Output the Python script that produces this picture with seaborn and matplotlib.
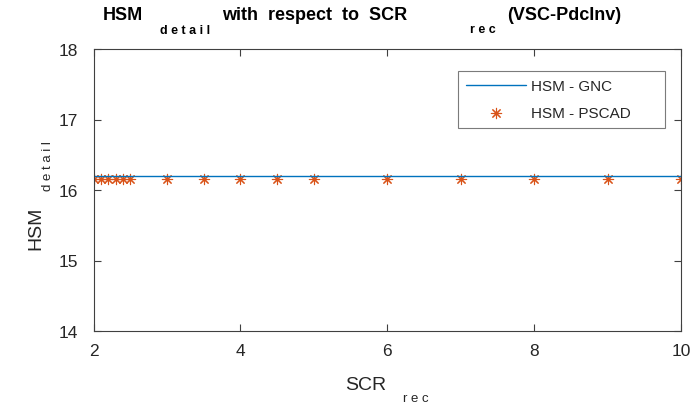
import matplotlib
matplotlib.use("Agg")
import matplotlib.pyplot as plt
import seaborn as sns
import pandas as pd

# Short-circuit ratio at the receiving end
scr_rec = [2.0, 2.1, 2.2, 2.3, 2.4, 2.5, 3.0, 3.5, 4.0, 4.5, 5.0, 6.0, 7.0, 8.0, 9.0, 10.0]
# Harmonic stability margin, analytical (GNC) and simulated (PSCAD)
hsm_gnc = [16.2] * len(scr_rec)
hsm_pscad = [16.15] * len(scr_rec)

x_ticks = [2, 4, 6, 8, 10]
y_ticks = [14, 15, 16, 17, 18]

sns.set_theme(style="white")
plt.rcParams["font.family"] = ["Liberation Sans", "DejaVu Sans"]

W, H = 691, 406
fig = plt.figure(figsize=(W / 100, H / 100), dpi=100)
ax = fig.add_axes([93.5 / W, 1 - 332 / H, (681 - 93.5) / W, (332 - 50) / H])

df = pd.DataFrame({"scr": scr_rec, "gnc": hsm_gnc, "pscad": hsm_pscad})
blue = "#0072BD"
orange = "#D95319"
sns.lineplot(data=df, x="scr", y="gnc", ax=ax, color=blue, linewidth=1.0,
             label="HSM - GNC")
sns.scatterplot(data=df, x="scr", y="pscad", ax=ax, color=orange,
                marker=(8, 2, 0), s=55, linewidth=0.8, edgecolor=orange,
                label="HSM - PSCAD")

ax.set_xlim(2, 10)
ax.set_ylim(14, 18)
ax.set_xticks(x_ticks)
ax.set_yticks(y_ticks)
ax.set_xticklabels([str(t) for t in x_ticks])
ax.set_yticklabels([str(t) for t in y_ticks])
ax.set_xlabel("")
ax.set_ylabel("")

axis_color = "#404040"
for sp in ax.spines.values():
    sp.set_visible(True)
    sp.set_color(axis_color)
    sp.set_linewidth(0.8)
ax.tick_params(axis="both", which="both", direction="in", length=5,
               width=0.8, color=axis_color, labelsize=12.5,
               labelcolor="#262626", top=True, right=True,
               bottom=True, left=True)
ax.tick_params(axis="x", pad=9)
ax.tick_params(axis="y", pad=11)

leg = ax.legend(loc="upper left",
                bbox_to_anchor=(458 / W, 1 - 134 / H, (665 - 458) / W, (134 - 72) / H),
                bbox_transform=fig.transFigure, mode="expand", frameon=True,
                fontsize=11, handlelength=3.9, borderpad=0.55,
                labelspacing=0.8, handletextpad=0.3, borderaxespad=0,
                fancybox=False)
leg.get_frame().set_edgecolor("#5a5a5a")
leg.get_frame().set_linewidth(0.8)

def ftext(x, y, s, **kw):
    fig.text(x / W, 1 - y / H, s, **kw)

# Title pieces with subscripts
ftext(103, 20, "HSM", fontsize=13, fontweight="bold", color="black")
ftext(160, 34, "d e t a i l", fontsize=9, fontweight="bold", color="black")
ftext(222, 20, "with  respect  to  SCR", fontsize=13, fontweight="bold", color="black")
ftext(470, 33, "r e c", fontsize=9, fontweight="bold", color="black")
ftext(507, 20, "(VSC-PdcInv)", fontsize=13, fontweight="bold", color="black")

# x-axis label
ftext(345, 390, "SCR", fontsize=14, color="#262626")
ftext(403, 402, "r e c", fontsize=9.5, color="#262626")

# y-axis label (rotated)
ftext(27, 246, "HSM", fontsize=14, color="#262626", rotation=90)
ftext(42, 188, "d e t a i l", fontsize=9.5, color="#262626", rotation=90)

fig.savefig("out.png", dpi=100)
